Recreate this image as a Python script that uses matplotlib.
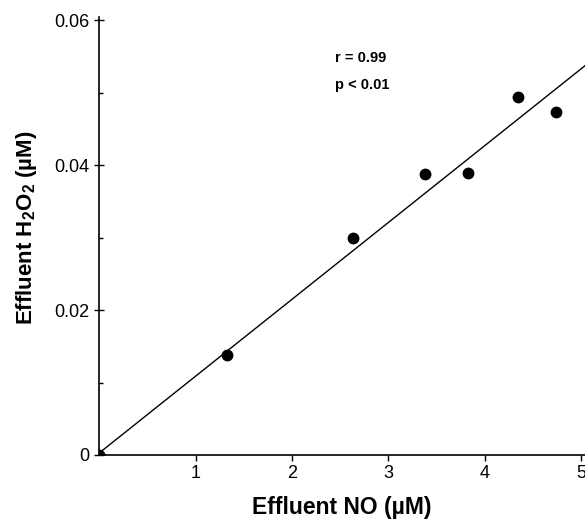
import matplotlib
matplotlib.use('Agg')
import matplotlib.pyplot as plt
from matplotlib.ticker import MultipleLocator

plt.rcParams['font.family'] = ['Liberation Sans', 'DejaVu Sans']
plt.rcParams['mathtext.fontset'] = 'custom'
plt.rcParams['mathtext.rm'] = 'Liberation Sans'
plt.rcParams['mathtext.bf'] = 'Liberation Sans:bold'

# values
no_um = [0.0, 1.32, 2.63, 3.38, 3.83, 4.34, 4.74]
h2o2_um = [0.0, 0.0138, 0.0299, 0.0388, 0.0389, 0.0494, 0.0474]
fit_slope = 0.0106
fit_intercept = 0.0003
fit_x = [0.0, 5.1]
x_ticks = [1, 2, 3, 4, 5]
y_ticks = [0, 0.02, 0.04, 0.06]
y_tick_labels = ['0', '0.02', '0.04', '0.06']

fig = plt.figure(figsize=(5.85, 5.21), dpi=100)
ax = fig.add_axes([0.170, 0.1267, 0.830, 0.840])

ax.plot(fit_x, [fit_slope * x + fit_intercept for x in fit_x], color='black', lw=1.0)
ax.plot(no_um, h2o2_um, 'o', color='black', ms=7.5)

ax.set_xlim(0, 5.04)
ax.set_ylim(0, 0.0604)
ax.set_xticks(x_ticks)
ax.set_yticks(y_ticks)
ax.set_yticklabels(y_tick_labels)
ax.yaxis.set_minor_locator(MultipleLocator(0.01))

for side in ['top', 'right']:
    ax.spines[side].set_visible(False)
ax.spines['left'].set_linewidth(1.2)
ax.spines['bottom'].set_linewidth(1.2)

ax.tick_params(axis='x', direction='out', length=4, width=1, labelsize=13, pad=3)
ax.tick_params(axis='y', which='major', direction='inout', length=7, width=1, labelsize=13, pad=4)
ax.tick_params(axis='y', which='minor', direction='in', length=3, width=1)

ax.set_xlabel('Effluent NO (µM)', fontsize=16.5, fontweight='bold', labelpad=10)
ax.set_ylabel(r'Effluent H$_\mathbf{2}$O$_\mathbf{2}$ (µM)', fontsize=16, fontweight='bold', labelpad=12)
ax.yaxis.set_label_coords(-0.125, 0.52)

ax.text(2.45, 0.0548, 'r = 0.99', fontsize=10.5, fontweight='bold', va='center')
ax.text(2.45, 0.0510, 'p < 0.01', fontsize=10.5, fontweight='bold', va='center')

fig.savefig('out.png', dpi=100)
plt.close(fig)
